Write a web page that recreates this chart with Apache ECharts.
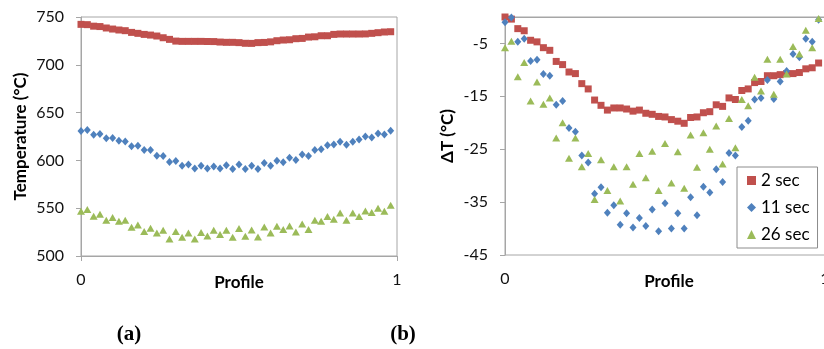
<!DOCTYPE html>
<html><head><meta charset="utf-8">
<script src="https://cdn.jsdelivr.net/npm/echarts@6/dist/echarts.min.js"></script>
<style>html,body{margin:0;padding:0;background:#fff}#c{width:824px;height:349px}</style>
</head><body><div id="c"></div>
<script>
const profile = [0,0.02,0.04,0.06,0.08,0.10,0.12,0.14,0.16,0.18,0.20,0.22,0.24,0.26,0.28,0.30,0.32,0.34,0.36,0.38,0.40,0.42,0.44,0.46,0.48,0.50,0.52,0.54,0.56,0.58,0.60,0.62,0.64,0.66,0.68,0.70,0.72,0.74,0.76,0.78,0.80,0.82,0.84,0.86,0.88,0.90,0.92,0.94,0.96,0.98];
const seriesNames = ['2 sec','11 sec','26 sec'];
// (a) Temperature (°C)
const temp2 = [742.3,742.0,740.4,740.0,738.5,737.4,736.4,735.7,733.9,732.9,731.8,731.1,730.1,728.3,726.6,724.8,724.5,724.5,724.5,724.5,724.4,724.3,723.8,723.5,723.5,723.2,722.5,722.4,723.2,723.4,724.0,725.2,725.9,726.2,727.3,727.6,729.0,729.3,730.4,730.4,731.8,732.2,732.2,732.2,732.2,732.3,732.9,733.6,734.3,734.6];
const temp11 = [630.8,631.8,626.9,627.6,623.1,623.4,620.6,619.9,614.7,615.4,610.8,610.8,604.9,604.5,598.3,599.3,594.4,595.8,591.6,594.4,591.6,593.7,591.6,594.8,590.9,595.8,590.9,594.4,590.9,597.2,594.4,599.7,598.0,602.9,600.5,606.1,604.7,611.0,611.7,615.9,616.6,619.4,616.3,619.4,621.9,625.0,624.0,628.2,627.1,631.0];
const temp26 = [546.9,548.6,541.6,543.7,537.4,540.2,536.4,537.4,530.1,532.5,525.5,529.0,524.1,526.9,517.8,525.5,519.6,524.1,517.8,524.5,521.0,526.9,522.4,526.9,519.6,528.7,520.6,527.3,519.9,530.4,524.1,531.1,527.6,531.5,525.2,533.6,527.6,537.4,536.4,541.3,538.5,545.1,537.4,545.1,541.3,547.2,545.5,550.0,546.9,553.1];
// (b) ΔT (°C)
const dT2 = [0.0,-0.4,-2.2,-2.6,-4.4,-4.7,-5.8,-6.3,-8.4,-9.0,-10.4,-10.7,-12.6,-13.6,-15.7,-16.7,-17.6,-17.2,-17.2,-17.4,-17.8,-17.6,-18.2,-18.4,-18.8,-18.9,-19.4,-19.7,-20.1,-19.0,-18.9,-18.1,-17.9,-16.6,-16.9,-15.3,-15.6,-13.9,-13.6,-12.4,-12.2,-11.1,-11.1,-10.9,-10.7,-10.7,-10.5,-9.8,-9.6,-8.7];
const dT11 = [-1.0,-0.1,-4.7,-4.1,-8.3,-8.1,-10.8,-11.1,-16.6,-15.9,-21.0,-21.7,-26.2,-27.5,-33.4,-32.2,-37.0,-35.6,-39.3,-37.1,-39.8,-38.0,-39.5,-36.4,-40.5,-35.2,-40.0,-37.1,-40.0,-34.1,-37.5,-32.1,-33.2,-28.8,-31.2,-25.7,-26.2,-20.8,-19.6,-15.6,-15.3,-11.9,-15.5,-12.2,-10.2,-7.0,-7.6,-4.1,-4.7,-0.5];
const dT26 = [-5.8,-4.6,-11.3,-8.6,-15.9,-12.3,-16.5,-15.3,-22.9,-20.0,-26.7,-22.9,-28.3,-25.8,-34.5,-27.0,-32.8,-28.3,-34.8,-28.3,-31.6,-25.8,-30.4,-25.4,-32.8,-23.9,-31.4,-25.5,-32.4,-22.3,-28.4,-21.9,-25.0,-20.6,-27.8,-19.2,-24.7,-15.6,-16.8,-11.4,-14.0,-8.0,-14.6,-8.0,-10.8,-5.6,-7.0,-2.5,-5.8,-0.3];
const xTicks = [0, 1];
const yTicksA = [500, 550, 600, 650, 700, 750];
const yTicksB = [-45, -35, -25, -15, -5];

const colors = ['#C0504D', '#4F81BD', '#9BBB59'];
const symbols = ['rect', 'diamond', 'triangle'];
const symSizes = [7, [7, 8], [8, 7]];
const FONT = 'Lato';
const AX = '#A6A6A6';

function pairs(ys) { return profile.map((x, i) => [x, ys[i]]); }

const chart = echarts.init(document.getElementById('c'), null, {renderer: 'canvas'});

function xAxisDef(gi) {
  return {
    type: 'value', gridIndex: gi, min: xTicks[0], max: xTicks[1], interval: 1,
    name: 'Profile', nameLocation: 'middle', nameGap: 27, nameMoveOverlap: false,
    nameTextStyle: {fontFamily: FONT, fontSize: 17, fontWeight: 'bold', color: '#000', verticalAlign: 'middle',
      padding: gi === 1 ? [0, 0, 0, 8] : 0},
    axisLine: {show: true, lineStyle: {color: AX, width: 1}},
    axisTick: {show: true, inside: false, length: 5, lineStyle: {color: AX}},
    axisLabel: {fontFamily: FONT, fontSize: 16, color: '#111', margin: 16, hideOverlap: false},
    splitLine: {show: false}
  };
}

const allSeries = [];
[[temp2, temp11, temp26], [dT2, dT11, dT26]].forEach((group, gi) => {
  group.forEach((ys, k) => {
    allSeries.push({
      name: seriesNames[k], type: 'scatter', xAxisIndex: gi, yAxisIndex: gi,
      data: pairs(ys), symbol: symbols[k], symbolSize: symSizes[k],
      itemStyle: {color: colors[k], opacity: 1}, clip: false, silent: true,
      z: 2 + (gi === 0 ? 0 : k)
    });
  });
});

chart.setOption({
  animation: false,
  backgroundColor: '#fff',
  grid: [
    {left: 81, top: 17, width: 316, height: 239, show: true, borderColor: AX, borderWidth: 1, containLabel: false, outerBoundsMode: 'none'},
    {left: 505, top: 17, width: 320, height: 238, show: true, borderColor: AX, borderWidth: 1, containLabel: false, outerBoundsMode: 'none'}
  ],
  xAxis: [xAxisDef(0), xAxisDef(1)],
  yAxis: [
    {
      type: 'value', gridIndex: 0, min: yTicksA[0], max: yTicksA[yTicksA.length - 1], interval: 50,
      name: 'Temperature (°C)', nameLocation: 'middle', nameGap: 60, nameRotate: 90, nameMoveOverlap: false,
      nameTextStyle: {fontFamily: FONT, fontSize: 17, fontWeight: 'bold', color: '#000', verticalAlign: 'middle'},
      axisLine: {show: true, lineStyle: {color: AX}},
      axisTick: {show: true, length: 5, lineStyle: {color: AX}},
      axisLabel: {fontFamily: FONT, fontSize: 16, color: '#111', margin: 17},
      splitLine: {show: false}
    },
    {
      type: 'value', gridIndex: 1, min: yTicksB[0], max: 0, interval: 10,
      name: 'ΔT (°C)', nameLocation: 'middle', nameGap: 57, nameRotate: 90, nameMoveOverlap: false,
      nameTextStyle: {fontFamily: FONT, fontSize: 17, fontWeight: 'bold', color: '#000', verticalAlign: 'middle'},
      axisLine: {show: true, lineStyle: {color: AX}},
      axisTick: {show: true, length: 5, lineStyle: {color: AX}},
      axisLabel: {fontFamily: FONT, fontSize: 16, color: '#111', margin: 17, showMaxLabel: false,
        formatter: v => (yTicksB.indexOf(v) >= 0 ? String(v) : '')},
      splitLine: {show: false}
    }
  ],
  legend: {
    left: 737, top: 167, orient: 'vertical',
    data: seriesNames.map((n, k) => ({name: n, icon: symbols[k]})),
    itemWidth: 9, itemHeight: 9, itemGap: 10,
    padding: [5, 8, 5, 10],
    borderColor: '#8C8C8C', borderWidth: 1, backgroundColor: '#fff',
    textStyle: {fontFamily: FONT, fontSize: 17, color: '#000'},
    selectedMode: false
  },
  graphic: [
    {type: 'text', x: 129, y: 335, style: {text: '(a)', font: 'bold 21px "Liberation Serif"', fill: '#000', align: 'center', verticalAlign: 'middle'}},
    {type: 'text', x: 403, y: 335, style: {text: '(b)', font: 'bold 21px "Liberation Serif"', fill: '#000', align: 'center', verticalAlign: 'middle'}}
  ],
  series: allSeries
});
</script></body></html>
